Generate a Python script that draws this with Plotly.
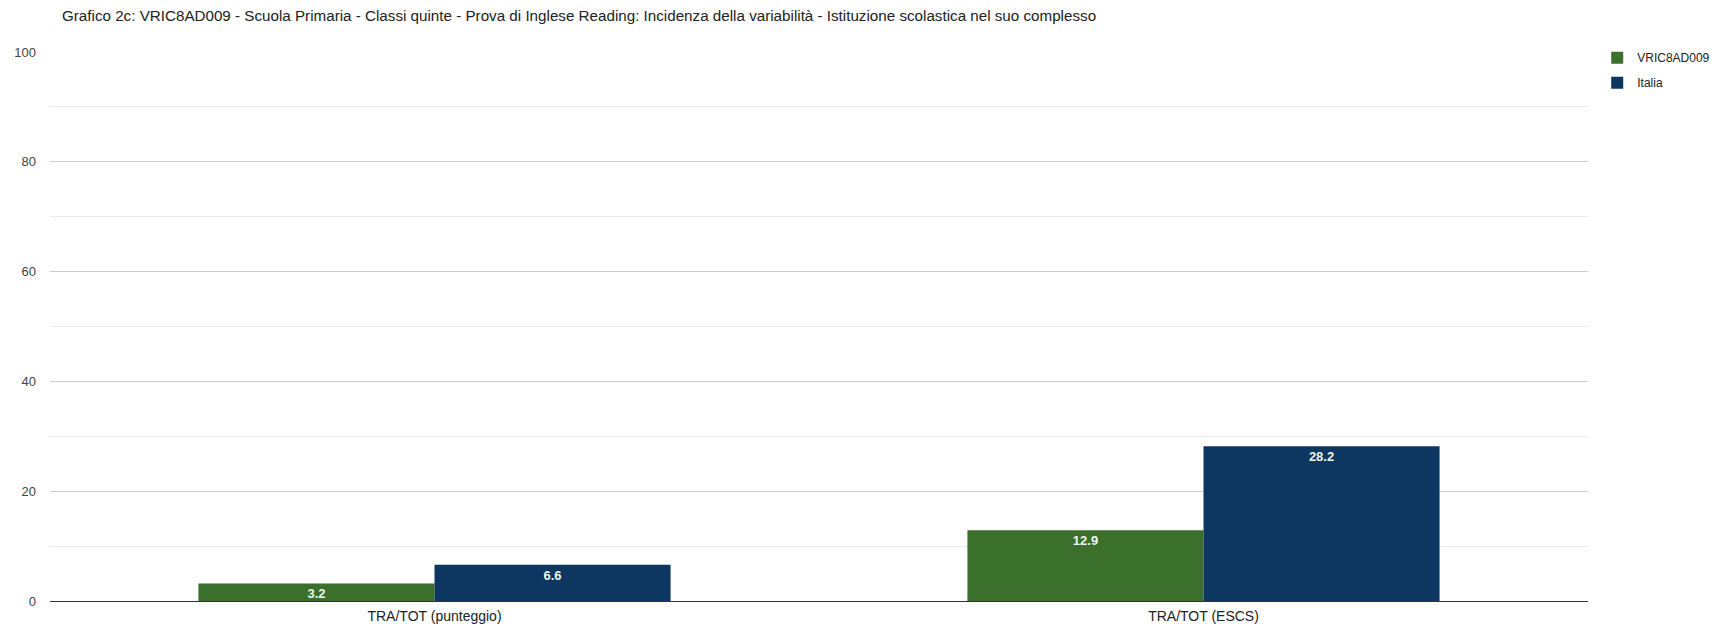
import plotly.graph_objects as go

categories = ["TRA/TOT (punteggio)", "TRA/TOT (ESCS)"]
series_names = ["VRIC8AD009", "Italia"]
school_values = [3.2, 12.9]
italia_values = [6.6, 28.2]
y_ticks = [0, 20, 40, 60, 80, 100]

colors = ["#3a6f2c", "#0d3660"]
title_text = ("Grafico 2c: VRIC8AD009 - Scuola Primaria - Classi quinte - Prova di Inglese Reading: "
              "Incidenza della variabilità - Istituzione scolastica nel suo complesso")

W, H = 1727, 621

fig = go.Figure()
for name, vals, col in zip(series_names, [school_values, italia_values], colors):
    fig.add_trace(go.Bar(
        x=categories, y=vals, name=name, legendgroup=name,
        marker=dict(color=col, line=dict(width=0)),
        text=[f"{v:.1f}" for v in vals],
        textposition="inside", insidetextanchor="end",
        constraintext="none",
        textfont=dict(family="Liberation Sans, Arial", size=13, color="#eef4ee", weight="bold"),
        cliponaxis=False,
    ))

fig.update_layout(
    width=W, height=H,
    margin=dict(l=42, r=147, t=44, b=28, autoexpand=False),
    paper_bgcolor="white", plot_bgcolor="white",
    barmode="group", bargap=0.386, bargroupgap=0.0,
    font=dict(family="Liberation Sans, Arial", size=12, color="#444"),
    title=dict(text=title_text, xref="container", x=54/W, xanchor="left",
               yref="container", y=1-8/H, yanchor="middle",
               font=dict(size=15.2, color="#222")),
    showlegend=True,
    legend=dict(x=1.006, y=1.016, xanchor="left", yanchor="top",
                font=dict(size=12, color="#222"), tracegroupgap=6,
                bgcolor="rgba(0,0,0,0)"),
    xaxis=dict(showgrid=False, showline=False, ticks="", ticklabelstandoff=5,
               automargin=False, tickfont=dict(size=14, color="#222")),
    yaxis=dict(range=[0, 100], tickvals=y_ticks, showgrid=True, gridcolor="#cccccc",
               gridwidth=1, zeroline=True, zerolinecolor="#333333", zerolinewidth=1,
               automargin=False,
               ticklabelstandoff=13, tickfont=dict(size=13, color="#444"),
               minor=dict(dtick=10, showgrid=True, gridcolor="#ebebeb", gridwidth=1),
               fixedrange=True),
)

fig.write_html("out.html")
